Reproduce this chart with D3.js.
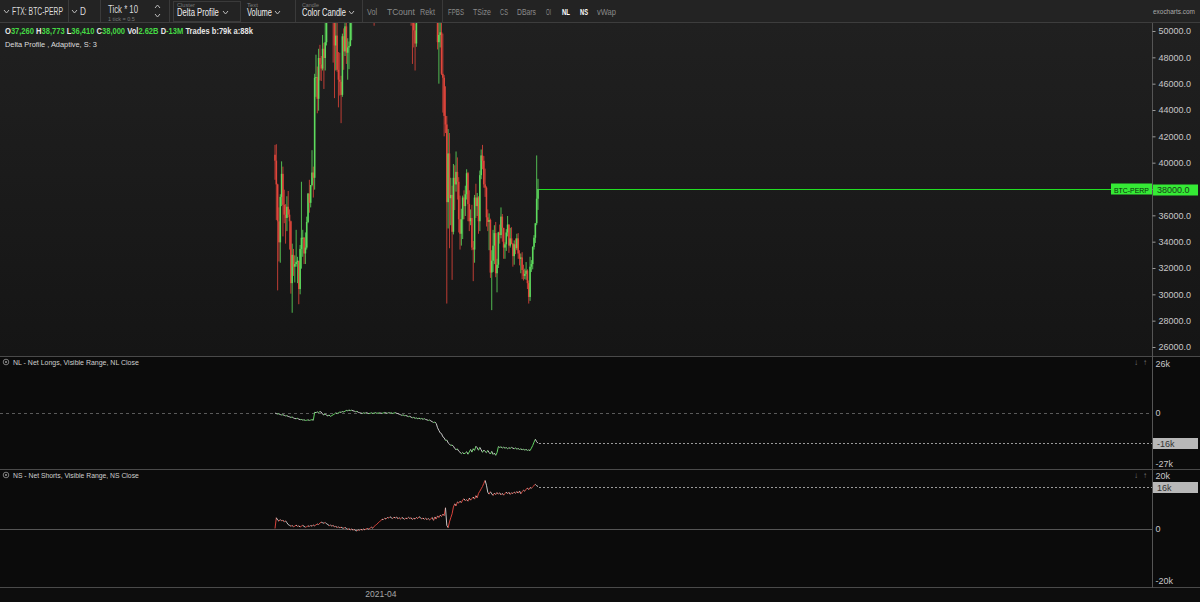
<!DOCTYPE html>
<html><head><meta charset="utf-8">
<script src="https://cdn.jsdelivr.net/npm/d3@7"></script>
<style>
html,body{margin:0;padding:0;background:#0b0b0b;overflow:hidden}
svg{display:block;font-family:"Liberation Sans",Arial,sans-serif}
</style>
</head><body>
<svg id="c" width="1200" height="602"></svg>
<script>
// ---------------- DATA ----------------
const firstDay = "2021-01-09";   // daily candles, FTX BTC-PERP
const opens = [
40600,40150,38350,35550,33950,37400,39150,36800,36050,35800,36650,36050,35550,30850,33000,32100,32300,32450,32550,30400,33450,34300,34300,
33100,33550,35500,37650,36950,38300,39250,38850,46450,46500,44850,47950,47450,47150,48650,47950,49150,52150,51550,55900,55850,57400,54100,48900,49650,47050,46300,46150,
45150,49600,48450,50350,48350,48750,48850,50950,52350,54900,55850,57800,57200,61200,59000,55650,56950,58900,57650,58300,58100,57350,54100,54350,52300,51300,55050,55850,55800,57650,58800,
58750,58700,58950,57050,58200,59100,57950,56000,57950,58100,59750,59850,59850,63600,62950,63150,61350,60050,56150,55650,56450,53800,51700,51150,50050,49050,54000,55050,54850,53550,
57700,57800,56600,57200,53250,57500,56450,57350,58850,58250,55850,56700,49150,49700,49900,46750,46450,43550,42900,37000,40700,37300,37550,34750,38850,38350,39300,38550,35700,34600,35700,
37350,36700,37600,39200,36850,35550,35800,33550,33400,37350,36700,37350,35550,39050,40550,40150,38350,38100,35850,35500,35650,31650,32550,33700,34650,31600,32250,34700,34500,35900,
35050,33550,33800,34700,35300,33700,34250,33850,32900,33800,33500,34250,33100,32700,32800,31850,31400,31550,31800,30850,29800,32100,32300,33600,34300,35400,37260];
const highs = [
41350,41400,38400,36600,37600,40100,39700,37950,36850,37450,37850,36450,35600,33850,33450,32950,34900,32850,32550,33750,38550,34900,34350,
34700,35900,37700,38700,38300,40950,39700,46750,48200,47300,48650,48950,48100,49700,49100,50650,52600,52550,56400,57600,58350,57550,54200,51350,52050,48400,48350,46600,
49800,50200,52650,51750,49450,49200,51450,52400,54900,57400,58150,58000,61850,61700,60650,56950,58950,60100,59450,59900,58600,58400,55850,57200,53250,55100,56650,56600,58400,59400,59800,
59450,60050,59800,58500,59250,59500,58700,58150,58900,61200,60800,61200,63800,64850,63800,63550,62500,60400,57550,57000,56750,55450,52150,51200,50550,54350,55450,56400,55200,58000,
58450,57950,58950,57200,57900,58350,58650,59500,59250,59550,56850,58000,51300,51550,50700,49800,46650,45800,43550,42550,42250,38850,38250,39900,39800,40850,40400,38900,37500,36500,37500,
37900,38250,39500,39300,37900,36450,36800,34050,37550,38400,37700,37450,39400,41000,41350,40500,39550,38200,36450,36150,35750,33350,34900,35250,35500,32700,34750,35300,36600,36100,
35050,33950,34950,35950,35300,35050,35100,33900,34100,34250,34600,34650,33350,33100,33200,32250,31950,32450,31900,31050,32850,32600,33650,34500,35400,40550,38773];
const lows = [
38700,35650,30300,32500,32400,36700,34400,35400,33850,34800,35850,33400,30050,28600,31400,30900,32100,30850,29250,30000,31950,32850,32300,
32300,33400,35400,36200,36600,38200,37350,37950,45000,43750,43950,46250,46200,47000,45600,47000,48900,50900,50700,54000,55500,47600,44900,47000,46900,44200,45100,43000,
45000,47050,48100,47500,46300,47100,48850,49300,51850,53000,54250,55000,56100,59000,54550,53250,54150,57000,56250,57800,55450,53650,53000,52000,50400,51200,53950,54700,54900,57000,56900,
57900,58450,56950,56500,56800,57600,55450,55700,57700,57900,59400,59350,59800,61000,62050,60000,59600,51500,54200,53400,53600,50400,47500,48750,47000,48800,53200,53850,52350,53050,
57050,56050,56450,53000,52900,55250,55250,56950,56250,53400,54400,48600,46000,48750,46650,43800,42000,42250,29300,35000,33500,35250,31100,34550,36400,37800,37200,34700,33400,33700,34200,
35700,35950,37200,35550,34800,35250,33350,31000,32400,35800,35950,34600,34800,38750,39500,38100,37400,35150,34800,33350,31250,28800,31700,32300,31300,30150,32000,33850,34250,34000,
32700,32700,33300,34400,33150,33550,33800,32100,32250,33050,33350,32700,32200,31600,31150,31050,31150,31100,30400,29300,29500,31700,31900,33400,33900,35250,36410];
const closes = [
40150,38350,35550,33950,37400,39150,36800,36050,35800,36650,36050,35550,30850,33000,32100,32300,32450,32550,30400,33450,34300,34300,33100,
33550,35500,37650,36950,38300,39250,38850,46450,46500,44850,47950,47450,47150,48650,47950,49150,52150,51550,55900,55850,57400,54100,48900,49650,47050,46300,46150,45150,
49600,48450,50350,48350,48750,48850,50950,52350,54900,55850,57800,57200,61200,59000,55650,56950,58900,57650,58300,58100,57350,54100,54350,52300,51300,55050,55850,55800,57650,58800,58750,
58700,58950,57050,58200,59100,57950,56000,57950,58100,59750,59850,59850,63600,62950,63150,61350,60050,56150,55650,56450,53800,51700,51150,50050,49050,54000,55050,54850,53550,57700,
57800,56600,57200,53250,57500,56450,57350,58850,58250,55850,56700,49150,49700,49900,46750,46450,43550,42900,37000,40700,37300,37550,34750,38850,38350,39300,38550,35700,34600,35700,37350,
36700,37600,39200,36850,35550,35800,33550,33400,37350,36700,37350,35550,39050,40550,40150,38350,38100,35850,35500,35650,31650,32550,33700,34650,31600,32250,34700,34500,35900,35050,
33550,33800,34700,35300,33700,34250,33850,32900,33800,33500,34250,33100,32700,32800,31850,31400,31550,31800,30850,29800,32100,32300,33600,34300,35400,37260,38000];

// Net longs / net shorts, thousands of contracts
const netLongsK = [
0,-0.3,-0.5,-0.4,-0.8,-1.0,-0.9,-1.2,-1.5,-1.4,
-1.8,-2.0,-2.3,-2.1,-2.6,-2.9,-3.0,-2.8,-3.2,-3.5,
-3.4,-3.7,-3.6,-3.9,-3.8,-3.6,-3.9,-3.7,-3.5,-3.8,
0.4,0.2,0.6,0.3,0.8,0.5,-0.6,-1.0,-0.4,-1.2,
-1.5,-1.0,-1.8,-1.3,-0.9,-0.5,0.1,-0.3,0.2,0.5,
0.4,0.8,0.6,1.0,1.4,1.2,1.6,1.3,1.5,1.2,
1.0,0.7,0.9,0.4,0.2,0.0,-0.2,0.1,-0.1,0.2,
0.0,-0.3,-0.1,0.1,-0.2,0.0,0.2,-0.1,0.0,0.1,
0.0,-0.2,0.1,0.3,0.0,-0.1,0.2,0.0,0.1,-0.2,
0.0,0.2,-0.1,-0.3,-0.6,-0.9,-1.2,-1.0,-1.4,-1.3,
-1.6,-1.9,-1.7,-2.2,-2.5,-2.3,-2.8,-2.6,-3.0,-2.7,
-3.1,-2.9,-3.3,-3.0,-3.4,-3.6,-3.9,-3.7,-4.2,-4.6,
-5.0,-4.8,-5.5,-7.8,-9.2,-10.5,-10.9,-12.6,-13.1,-14.5,
-14.3,-15.8,-16.4,-17.2,-16.9,-17.6,-18.8,-19.4,-19.0,-20.2,
-20.8,-21.5,-20.9,-21.6,-21.2,-20.5,-21.8,-20.6,-19.3,-20.7,
-18.9,-19.8,-17.6,-18.4,-19.7,-18.2,-19.5,-20.8,-19.6,-20.4,
-21.0,-19.8,-20.9,-21.7,-20.3,-21.9,-21.2,-22.4,-21.0,-17.8,
-18.2,-17.9,-18.5,-18.1,-18.6,-18.3,-18.9,-18.4,-18.7,-18.2,
-18.6,-18.9,-18.5,-19.1,-18.8,-19.3,-19.0,-19.4,-19.2,-19.6,
-19.3,-19.8,-19.5,-19.9,-18.6,-17.2,-15.4,-13.9,-15.2,-16.0];
const netShortsK = [
0.0,4.1,3.2,2.8,3.4,2.9,3.1,2.6,2.9,2.2,
1.5,1.2,0.9,1.1,0.7,0.9,1.3,0.8,1.0,0.6,
0.9,1.2,0.8,0.5,0.7,1.0,0.8,1.1,0.9,1.3,
1.0,1.4,1.7,1.5,2.1,2.4,2.2,2.0,2.3,1.8,
1.5,1.1,1.3,0.9,1.2,0.6,0.8,0.4,0.6,0.3,
0.5,0.2,0.1,0.4,0.0,-0.3,-0.1,-0.5,-0.2,-0.6,
-0.4,-0.8,-0.9,-0.5,-0.7,-0.3,-0.6,-0.2,-0.5,-0.1,
0.0,-0.3,0.2,0.5,0.1,0.8,1.2,1.6,2.1,2.6,
3.0,3.5,3.4,3.9,3.6,4.2,4.0,4.5,4.1,3.8,
4.3,4.0,4.4,3.7,4.1,3.6,4.2,3.9,3.5,4.0,
3.7,4.3,3.8,4.1,3.4,3.9,3.6,4.2,3.8,4.5,
4.1,3.7,4.0,3.5,3.9,3.4,3.8,3.3,3.7,4.2,
3.1,4.4,3.6,4.8,4.2,5.1,4.6,5.5,4.9,7.9,
1.2,0.3,2.5,4.1,5.6,8.2,9.4,8.6,10.1,9.7,
10.4,9.8,10.9,11.3,10.6,11.0,10.4,11.6,10.8,11.4,
12.0,11.2,12.5,11.7,13.4,14.2,15.1,16.0,17.2,18.3,
16.5,13.8,13.1,14.0,13.2,12.6,13.5,12.9,13.7,13.1,
13.6,12.8,13.4,12.7,13.3,13.9,13.2,13.8,13.0,13.6,
13.3,13.9,13.4,14.1,13.5,14.3,13.2,14.0,14.6,14.2,
15.0,15.4,14.8,15.6,15.3,15.9,16.4,16.8,16.3,16.0];

const priceTicks = [26000,28000,30000,32000,34000,36000,38000,40000,42000,44000,46000,48000,50000];
const priceRange = [26000, 50000];
const nlTicks = [26000, 0, -27000];
const nsTicks = [20000, 0, -20000];
const nlLabel = "-16k", nsLabel = "16k";
const lastPrice = 38000;
const symbol = "BTC-PERP";
const xTickDates = ["2021-04-01"];
const infoParts = [["O","w"],["37,260 ","g"],["H","w"],["38,773 ","g"],["L","w"],["36,410 ","g"],["C","w"],["38,000 ","g"],
  ["Vol","w"],["2.62B ","g"],["D","w"],["-13M ","g"],["Trades b:79k a:88k","w"]];

// ---------------- LAYOUT ----------------
const W = 1200, H = 602, AX = 1152;
const svg = d3.select("#c");
const defs = svg.append("defs");
const grad = defs.append("linearGradient").attr("id","mainbg").attr("x1",0).attr("y1",0).attr("x2",0).attr("y2",1);
grad.append("stop").attr("offset","0%").attr("stop-color","#202020");
grad.append("stop").attr("offset","100%").attr("stop-color","#151515");
defs.append("clipPath").attr("id","clipMain").append("rect").attr("x",0).attr("y",23).attr("width",AX).attr("height",333);

svg.append("rect").attr("width",W).attr("height",H).attr("fill","#0b0b0b");
svg.append("rect").attr("x",0).attr("y",0).attr("width",W).attr("height",23).attr("fill","#232323");
svg.append("rect").attr("x",0).attr("y",23).attr("width",W).attr("height",333).attr("fill","url(#mainbg)");
svg.append("rect").attr("x",0).attr("y",588).attr("width",W).attr("height",14).attr("fill","#0d0d0d");

const hline = (y,c)=>svg.append("line").attr("x1",0).attr("x2",W).attr("y1",y).attr("y2",y).attr("stroke",c).attr("stroke-width",1);
hline(22.5,"#3d3d3d"); hline(356.5,"#4a4a4a"); hline(469.5,"#4a4a4a"); hline(587.5,"#4a4a4a");
svg.append("line").attr("x1",AX+0.5).attr("x2",AX+0.5).attr("y1",23).attr("y2",588).attr("stroke","#555");

function fit(g, s, x, y, w, o={}) {
  const t = g.append("text").attr("x",0).attr("y",0).text(s)
    .attr("font-size",o.size||10).attr("fill",o.color||"#dcdcdc")
    .attr("font-weight",o.weight||"normal");
  const len = t.node().getComputedTextLength() || w;
  const k = w / len;
  const x0 = o.anchor==="end" ? x - w : (o.anchor==="middle" ? x - w/2 : x);
  t.attr("transform",`translate(${x0},${y}) scale(${k},1)`);
  return t;
}
function chevron(g,x,y,up){
  g.append("path").attr("d", up ? `M${x},${y+3}L${x+2.5},${y}L${x+5},${y+3}` : `M${x},${y}L${x+2.5},${y+3}L${x+5},${y}`)
   .attr("fill","none").attr("stroke","#bbb").attr("stroke-width",1);
}

// ---------------- TOOLBAR ----------------
const tb = svg.append("g");
[68,100,169,295,362,442].forEach(x=>tb.append("line").attr("x1",x+0.5).attr("x2",x+0.5).attr("y1",0).attr("y2",22).attr("stroke","#3a3a3a"));
tb.append("rect").attr("x",173.5).attr("y",1.5).attr("width",67).attr("height",20).attr("fill","none").attr("stroke","#3a3a3a");
chevron(tb,4,10); fit(tb,"FTX: BTC-PERP",12,15,51);
chevron(tb,72,10); fit(tb,"D",80,15,6);
fit(tb,"Tick * 10",108,13,30);
fit(tb,"1 tick = 0.5",108,20.5,27,{size:5.5,color:"#777"});
chevron(tb,155,5,true); chevron(tb,155,14,false);
fit(tb,"Cluster",177,7,18,{size:6,color:"#777"});
fit(tb,"Delta Profile",177,16,42,{color:"#eee"}); chevron(tb,223,11);
fit(tb,"Text",247,7,11,{size:6,color:"#777"});
fit(tb,"Volume",247,16,25,{color:"#eee"}); chevron(tb,275,11);
fit(tb,"Candle",302,7,17,{size:6,color:"#777"});
fit(tb,"Color Candle",302,16,44,{color:"#eee"}); chevron(tb,349,11);
const btns = [["Vol",367,10],["TCount",387,28],["Rekt",420,15],["FPBS",448,16],["TSize",473,18],["CS",500,8],["DBars",517,19],["OI",546,5],["NL",562,8],["NS",580,8],["vWap",597,19]];
btns.forEach(([s,x,w])=>{
  const on = (s==="NL"||s==="NS");
  fit(tb,s,x,15,w,{size:9,color:on?"#ffffff":"#8a8a8a",weight:on?"bold":"normal"});
});
fit(tb,"exocharts.com",1195,14,42,{size:7.5,color:"#aaa",anchor:"end"});

const ig = svg.append("g");
let cx = 0;
infoParts.forEach(([s,c])=>{
  const t = ig.append("text").attr("x",cx).attr("y",0).attr("font-size",9).attr("font-weight","bold")
    .attr("fill", c==="g" ? "#45d845" : "#e6e6e6").style("white-space","pre").text(s);
  cx += t.node().getComputedTextLength();
});
ig.attr("transform",`translate(5,34) scale(${248/cx},1)`);
fit(svg,"Delta Profile , Adaptive, S: 3",5,47,92,{size:8,color:"#ddd"});

// ---------------- SCALES ----------------
const parse = d3.timeParse("%Y-%m-%d");
const d0 = parse(firstDay);
const dates = closes.map((_,i)=>d3.timeDay.offset(d0,i));
const x = d3.scaleTime().domain([dates[0], dates[dates.length-1]]).range([275, 538]);
const yP = d3.scaleLinear().domain(priceRange).range([347, 31]);
const yNL = d3.scaleLinear().domain([-27000, 26000]).range([464, 364]);
const yNS = d3.scaleLinear().domain([-20000, 20000]).range([581, 476]);

// ---------------- CANDLES ----------------
const UP="#5fe05f", DN="#e4463c";
const cg = svg.append("g").attr("clip-path","url(#clipMain)");
const candles = dates.map((d,i)=>({d,o:opens[i],h:highs[i],l:lows[i],c:closes[i]}));
cg.selectAll("line.w").data(candles).join("line")
  .attr("x1",d=>x(d.d)).attr("x2",d=>x(d.d))
  .attr("y1",d=>yP(d.h)).attr("y2",d=>yP(d.l))
  .attr("stroke",d=>d.c>=d.o?UP:DN).attr("stroke-width",0.9).attr("opacity",0.9);
cg.selectAll("rect.b").data(candles).join("rect")
  .attr("x",d=>x(d.d)-0.8).attr("width",1.6)
  .attr("y",d=>yP(Math.max(d.o,d.c)))
  .attr("height",d=>Math.max(1,Math.abs(yP(d.o)-yP(d.c))))
  .attr("fill",d=>d.c>=d.o?UP:DN).attr("opacity",0.92);

// last price line + labels
const lastX = x(dates[dates.length-1]);
const yl = Math.round(yP(lastPrice));
svg.append("rect").attr("x",lastX+1).attr("y",yl).attr("width",1111-lastX-1).attr("height",1).attr("fill","#22dd22").attr("shape-rendering","crispEdges");
svg.append("rect").attr("x",1111).attr("y",yl-5.5).attr("width",41).attr("height",11).attr("fill","#35ea35");
fit(svg,symbol,1131.5,yl+4,35,{size:8,color:"#0a2a0a",anchor:"middle"});

const pAxis = svg.append("g").attr("transform",`translate(${AX+0.5},0)`)
  .call(d3.axisRight(yP).tickValues(priceTicks).tickFormat(d3.format(".1f")).tickSize(3).tickPadding(3));
pAxis.select(".domain").remove();
pAxis.selectAll("line").attr("stroke","#9a9a9a");
pAxis.selectAll("text").attr("fill","#c8c8c8").attr("font-size",9).attr("font-family","Liberation Sans, Arial, sans-serif");
svg.append("rect").attr("x",AX+1).attr("y",yl-4.5).attr("width",45).attr("height",11).attr("fill","#35ea35");
svg.append("text").attr("x",AX+5).attr("y",yl+4).attr("font-size",9).attr("fill","#1c3a1c").text(d3.format(".1f")(lastPrice));

// ---------------- NL / NS PANELS ----------------
function panel(vals, y, ticks, zeroDash, upColor, dnColor, label, titleText, titleY) {
  const g = svg.append("g");
  g.append("line").attr("x1",0).attr("x2",AX).attr("y1",Math.round(y(0))+0.5).attr("y2",Math.round(y(0))+0.5)
    .attr("stroke", zeroDash ? "#5a5a5a" : "#555").attr("stroke-dasharray", zeroDash ? "3,3" : null);
  const pts = vals.map((v,i)=>({x:x(dates[i]), y:y(v*1000), v}));
  const sg = pts.slice(1).map((p,i)=>({a:pts[i], b:p}));
  g.selectAll("line.s").data(sg).join("line")
    .attr("x1",s=>s.a.x).attr("y1",s=>s.a.y).attr("x2",s=>s.b.x).attr("y2",s=>s.b.y)
    .attr("stroke",s=>s.b.v>=s.a.v?upColor:dnColor).attr("stroke-width",1);
  const last = pts[pts.length-1];
  const ly = Math.round(last.y)+0.5;
  g.append("line").attr("x1",last.x+1).attr("x2",AX).attr("y1",ly).attr("y2",ly)
    .attr("stroke","#9a9a9a").attr("stroke-dasharray","2,2");
  const ax = g.append("g").attr("transform",`translate(${AX+0.5},0)`)
    .call(d3.axisRight(y).tickValues(ticks).tickSize(0).tickPadding(3)
      .tickFormat(v=>v===0?"0":(v/1000)+"k"));
  ax.select(".domain").remove();
  ax.selectAll("text").attr("fill","#c8c8c8").attr("font-size",9).attr("font-family","Liberation Sans, Arial, sans-serif");
  g.append("rect").attr("x",AX+1).attr("y",ly-5.5).attr("width",45).attr("height",11).attr("fill","#b8b8b8");
  g.append("text").attr("x",AX+5).attr("y",ly+3.5).attr("font-size",9).attr("fill","#333").text(label);
  g.append("circle").attr("cx",6).attr("cy",titleY-3).attr("r",2.8).attr("fill","none").attr("stroke","#999").attr("stroke-width",0.8);
  g.append("circle").attr("cx",6).attr("cy",titleY-3).attr("r",1).attr("fill","#999");
  fit(g,titleText,13,titleY,126,{size:8,color:"#cfcfcf"});
  g.append("text").attr("x",1134).attr("y",titleY).attr("font-size",8).attr("fill","#777").text("↓");
  g.append("text").attr("x",1143).attr("y",titleY).attr("font-size",8).attr("fill","#777").text("↑");
}
panel(netLongsK, yNL, nlTicks, true, "#62d562", "#c8c8c8", nlLabel, "NL - Net Longs, Visible Range, NL Close", 365);
panel(netShortsK, yNS, nsTicks, false, "#d8433b", "#c8c8c8", nsLabel, "NS - Net Shorts, Visible Range, NS Close", 478);

// ---------------- X AXIS ----------------
const xa = svg.append("g").attr("transform","translate(0,588)")
  .call(d3.axisBottom(x).tickValues(xTickDates.map(parse)).tickSize(0).tickPadding(3).tickFormat(d3.timeFormat("%Y-%m")));
xa.select(".domain").remove();
xa.selectAll("text").attr("fill","#a8a8a8").attr("font-size",8.5).attr("dx",-3).attr("font-family","Liberation Sans, Arial, sans-serif");
</script>
</body></html>
